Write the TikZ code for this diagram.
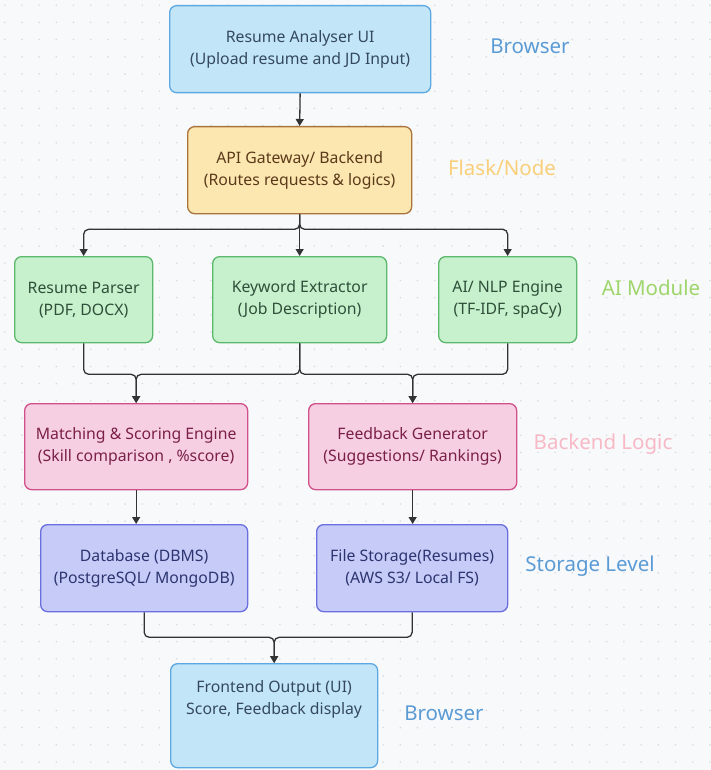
\documentclass[tikz,border=0pt]{standalone}
\usepackage{fontspec}
\setmainfont{Noto Sans}
\usetikzlibrary{arrows.meta}
\definecolor{bgc}{HTML}{F8F9FB}
\definecolor{dotc}{HTML}{D9DBE0}
\definecolor{linec}{HTML}{333333}
\definecolor{bluef}{HTML}{C3E5F8}\definecolor{blued}{HTML}{5CA8E0}\definecolor{bluet}{HTML}{34495E}
\definecolor{orf}{HTML}{FDE7B0}\definecolor{ord}{HTML}{A8743C}\definecolor{ort}{HTML}{5A3A1A}
\definecolor{grf}{HTML}{C6F1CC}\definecolor{grd}{HTML}{5CB86C}\definecolor{grt}{HTML}{2F4F3A}
\definecolor{pkf}{HTML}{F7CFE3}\definecolor{pkd}{HTML}{D0508A}\definecolor{pkt}{HTML}{7A2048}
\definecolor{puf}{HTML}{C7CBF8}\definecolor{pud}{HTML}{6A6FE0}\definecolor{put}{HTML}{2C3570}
\definecolor{lblue}{HTML}{5B9BD5}\definecolor{lorange}{HTML}{F9CF7A}\definecolor{lgreen}{HTML}{9ED66B}\definecolor{lpink}{HTML}{F8B9C6}
\begin{document}
\begin{tikzpicture}[x=1pt,y=-1pt,
  box/.style={draw, rounded corners=7pt, line width=1.3pt, align=center, anchor=north west,
    inner sep=0pt, font=\fontsize{15.8}{22}\selectfont},
  bluebox/.style={box, fill=bluef, draw=blued, text=bluet},
  orbox/.style={box, fill=orf, draw=ord, text=ort},
  grbox/.style={box, fill=grf, draw=grd, text=grt},
  pkbox/.style={box, fill=pkf, draw=pkd, text=pkt},
  pubox/.style={box, fill=puf, draw=pud, text=put},
  lbl/.style={font=\fontsize{20.5}{24}\selectfont, anchor=center},
  conn/.style={draw=linec, line width=1.3pt, rounded corners=5pt},
  arr/.style={conn, -{Triangle[length=7pt,width=8pt]}}
]
\fill[bgc] (0,0) rectangle (711,770);
\useasboundingbox (0,0) rectangle (711,770);
\foreach \i in {0,...,41}{\foreach \j in {0,...,44}{
  \fill[dotc] (4.7+17.2*\i,5.2+17.2*\j) circle (0.9);}}

% nodes
\node[bluebox, minimum width=261pt, minimum height=87pt] (ui) at (169,5) {Resume Analyser UI\\(Upload resume and JD Input)};
\node[lbl, text=lblue] (lb1) at (530,46) {Browser};

\node[orbox, minimum width=224pt, minimum height=87pt] (api) at (187,126) {API Gateway/ Backend\\(Routes requests \& logics)};
\node[lbl, text=lorange] (lb2) at (502,168) {Flask/Node};

\node[grbox, minimum width=138pt, minimum height=86pt] (rp) at (14,256) {Resume Parser\\(PDF, DOCX)};
\node[grbox, minimum width=174pt, minimum height=86pt] (ke) at (212,256) {Keyword Extractor\\(Job Description)};
\node[grbox, minimum width=138pt, minimum height=86pt] (ai) at (438,256) {AI/ NLP Engine\\(TF-IDF, spaCy)};
\node[lbl, text=lgreen] (lb3) at (651,288) {AI Module};

\node[pkbox, minimum width=223pt, minimum height=86pt] (ms) at (24,403) {Matching \& Scoring Engine\\(Skill comparison , \%score)};
\node[pkbox, minimum width=208pt, minimum height=86pt] (fg) at (308,403) {Feedback Generator\\(Suggestions/ Rankings)};
\node[lbl, text=lpink] (lb4) at (603,444) {Backend Logic};

\node[pubox, minimum width=207pt, minimum height=87pt] (db) at (40,524) {Database (DBMS)\\(PostgreSQL/ MongoDB)};
\node[pubox, minimum width=191pt, minimum height=87pt] (fs) at (316,524) {File Storage(Resumes)\\(AWS S3/ Local FS)};
\node[lbl, text=lblue] (lb5) at (590,566) {Storage Level};

\node[bluebox, minimum width=207pt, minimum height=104pt, text depth=36pt] (fe) at (170,663) {Frontend Output (UI)\\Score, Feedback display};
\node[lbl, text=lblue] (lb6) at (444,713) {Browser};

% connectors
\draw[arr] (ui.south) -- (api.north);
\draw[arr] (api.south) -- (ke.north);
\draw[arr] (api.south) -- ++(0,15) -| (rp.north);
\draw[arr] (api.south) -- ++(0,15) -| (ai.north);

\draw[arr] (rp.south) -- ++(0,31) -| (ms.north);
\draw[arr] (ke.south) -- ++(0,31) -| (ms.north);
\draw[arr] (ke.south) -- ++(0,31) -| (fg.north);
\draw[arr] (ai.south) -- ++(0,31) -| (fg.north);

\draw[arr] (ms.south) -- (ms.south |- db.north);
\draw[arr] (fg.south) -- (fg.south |- fs.north);

\draw[arr] (db.south) -- ++(0,25) -| (fe.north);
\draw[arr] (fs.south) -- ++(0,25) -| (fe.north);
\end{tikzpicture}
\end{document}
